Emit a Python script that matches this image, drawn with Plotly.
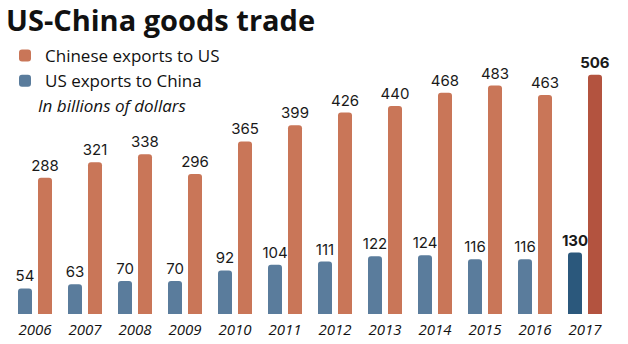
import plotly.graph_objects as go

years = ["2006", "2007", "2008", "2009", "2010", "2011", "2012", "2013", "2014", "2015", "2016", "2017"]
us_exports = [54, 63, 70, 70, 92, 104, 111, 122, 124, 116, 116, 130]
cn_exports = [288, 321, 338, 296, 365, 399, 426, 440, 468, 483, 463, 506]

BLUE, BLUE_HI = "#5a7c9c", "#2b587c"
ORANGE, ORANGE_HI = "#c97658", "#b3533f"

W, H = 628, 344
ML, MR, MT, MB = 10, 18, 0, 30
PW, PH = W - ML - MR, H - MT - MB
YMAX = 664
LABEL_FONT = "Inter"
BAR_W = 0.28


def px_x(p):
    return (p - ML) / PW


def px_y(p):
    return 1 - (p - MT) / PH


def labels(vals):
    return [f"<b>{v}</b>" if y == years[-1] else str(v) for v, y in zip(vals, years)]


fig = go.Figure()
# orange drawn first so that the blue labels sit on top of it
fig.add_trace(go.Bar(
    x=years, y=cn_exports, name="Chinese exports to US",
    width=BAR_W, offset=0.06,
    marker=dict(color=[ORANGE_HI if y == years[-1] else ORANGE for y in years], cornerradius=3, line=dict(width=0)),
    text=labels(cn_exports), textposition="outside", constraintext="none",
    textfont=dict(family=LABEL_FONT, size=15, color="#1a1a1a"),
    cliponaxis=False, legendrank=1,
))
fig.add_trace(go.Bar(
    x=years, y=us_exports, name="US exports to China",
    width=BAR_W, offset=-0.34,
    marker=dict(color=[BLUE_HI if y == years[-1] else BLUE for y in years], cornerradius=3, line=dict(width=0)),
    text=labels(us_exports), textposition="outside", constraintext="none",
    textfont=dict(family=LABEL_FONT, size=15, color="#1a1a1a"),
    cliponaxis=False, legendrank=2,
))

fig.update_layout(
    width=W, height=H,
    margin=dict(l=ML, r=MR, t=MT, b=MB),
    paper_bgcolor="white", plot_bgcolor="white",
    barmode="overlay",
    font=dict(family="Open Sans", color="#111111"),
    showlegend=True,
    legend=dict(
        x=px_x(5), y=px_y(38), xanchor="left", yanchor="top",
        font=dict(family="Open Sans", size=17, color="#111111"),
        bgcolor="rgba(0,0,0,0)", tracegroupgap=0,
    ),
    xaxis=dict(
        showgrid=False, showline=False, zeroline=False, ticks="",
        tickfont=dict(family="Open Sans", size=15, color="#111111", style="italic"),
        ticklabelstandoff=5, range=[-0.5, len(years) - 0.5],
        fixedrange=True,
    ),
    yaxis=dict(range=[0, YMAX], visible=False, fixedrange=True),
    annotations=[
        dict(text="<b>US-China goods trade</b>", xref="paper", yref="paper",
             x=px_x(4), y=px_y(20), xanchor="left", yanchor="middle", showarrow=False,
             font=dict(family="Open Sans", size=29, color="#111111", weight=800)),
        dict(text="<i>In billions of dollars</i>", xref="paper", yref="paper",
             x=px_x(36), y=px_y(106), xanchor="left", yanchor="middle", showarrow=False,
             font=dict(family="Open Sans", size=17, color="#111111")),
    ],
)

fig.write_html("out.html")
